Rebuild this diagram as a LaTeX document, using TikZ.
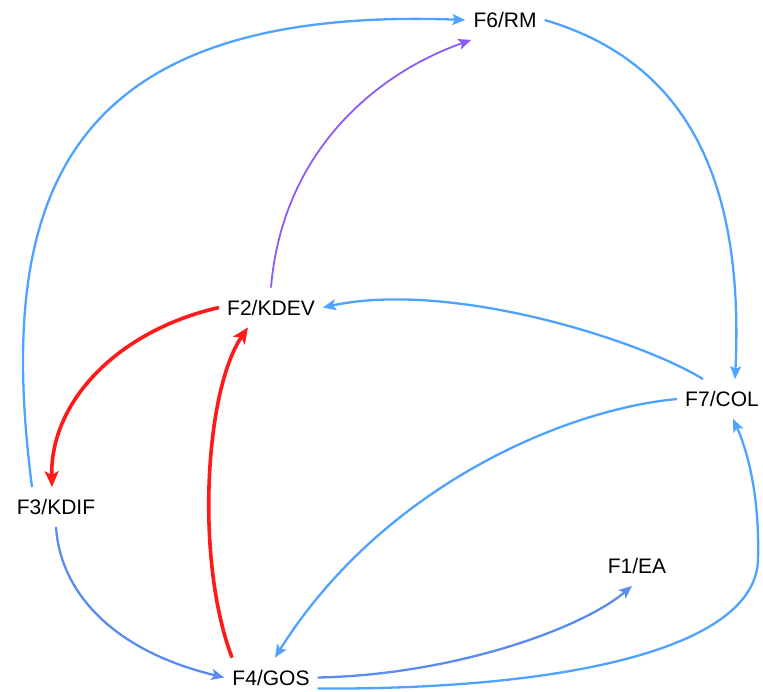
\documentclass[tikz,border=0pt]{standalone}
\usepackage{fontspec}
\setmainfont{Liberation Sans}
\usetikzlibrary{arrows.meta}
\definecolor{eblue}{HTML}{4DA3FF}
\definecolor{edblue}{HTML}{5A8CF0}
\definecolor{epurple}{HTML}{8B5CF6}
\definecolor{ered}{HTML}{FF1A1A}
\begin{document}
\begin{tikzpicture}[x=1pt,y=-1pt,
  lbl/.style={font=\fontsize{21}{24}\selectfont, inner xsep=8pt, inner ysep=12pt},
  edge/.style={-{Stealth[length=13pt,width=11pt,inset=3pt]}, line width=2.3pt, eblue},
  redge/.style={-{Stealth[length=16pt,width=14pt,inset=4pt]}, line width=3.6pt, ered},
  pedge/.style={-{Stealth[length=13pt,width=11pt,inset=3pt]}, line width=1.8pt, epurple}]
\useasboundingbox[fill=white] (0,0) rectangle (763,691);
\node[lbl] (F6) at (505,20) {F6/RM};
\node[lbl] (F2) at (271,307.5) {F2/KDEV};
\node[lbl] (F3) at (56,507) {F3/KDIF};
\node[lbl] (F4) at (271,677.5) {F4/GOS};
\node[lbl] (F1) at (637,566) {F1/EA};
\node[lbl] (F7) at (722,399) {F7/COL};

\draw[edge] ([xshift=-24pt]F3.north) .. controls (-5,200) and (60,5) .. (F6.west);
\draw[pedge] (F2.north) .. controls (282,155) and (372,75) .. ([xshift=6pt]F6.south west);
\draw[edge] (F6.east) .. controls (680,60) and (745,170) .. ([xshift=13pt]F7.north);
\draw[edge] ([xshift=-19pt]F7.north) .. controls (640,340) and (450,280) .. (F2.east);
\draw[edge] (F7.west) .. controls (560,410) and (380,490) .. ([xshift=4pt]F4.north);
\draw[redge] (F2.west) .. controls (120,330) and (50,400) .. ([xshift=-4pt]F3.north);
\draw[redge] ([xshift=-39pt]F4.north) .. controls (195,560) and (205,390) .. ([xshift=-23pt]F2.south);
\draw[edge, edblue] (F3.south) .. controls (60,590) and (110,650) .. (F4.west);
\draw[edge, edblue] (F4.east) .. controls (450,675) and (580,630) .. ([xshift=-5pt]F1.south);
\draw[edge] ([yshift=-11pt]F4.east) .. controls (560,690) and (755,650) .. (758,560)
  .. controls (760,490) and (745,445) .. ([xshift=11pt]F7.south);
\end{tikzpicture}
\end{document}
